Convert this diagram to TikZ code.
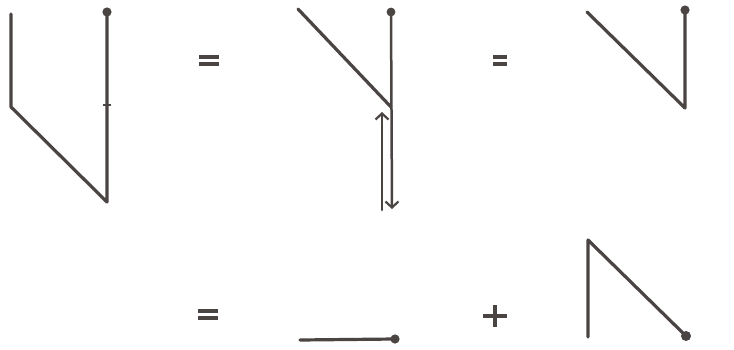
\documentclass[tikz,border=0pt]{standalone}
\usetikzlibrary{arrows.meta}
\definecolor{ink}{HTML}{4A4443}
\begin{document}
\begin{tikzpicture}[x=1pt,y=-1pt,
  stroke/.style={draw=ink,line width=3.2pt,line cap=round,line join=round},
  thin stroke/.style={draw=ink,line width=2.5pt,line cap=round},
  knob/.style={fill=ink},
  sign/.style={draw=ink,line width=3.5pt},
  barb/.style={-{Straight Barb[length=6pt,width=13pt,line width=2.2pt]}}]
\useasboundingbox (0,0) rectangle (734,349);
% figure 1
\coordinate (a1) at (11,14); \coordinate (a2) at (11,107);
\coordinate (a3) at (107,202); \coordinate (a4) at (107,12);
\draw[stroke] (a1) -- (a2) -- (a3) -- (a4);
\fill[knob] (a4) circle (4.6pt);
\draw[ink,line width=1.8pt] (103,105) -- (111,105);
% equals 1
\draw[sign] (199,57) -- (219,57) (199,64) -- (219,64);
% figure 2
\coordinate (b1) at (298,9); \coordinate (b2) at (391,107);
\coordinate (b3) at (391,12); \coordinate (b4) at (392,209);
\coordinate (c1) at (382,210); \coordinate (c2) at (382,112);
\draw[stroke] (b1) -- (b2);
\draw[thin stroke,barb] (b3) -- (b4);
\fill[knob] (b3) circle (4.4pt);
\draw[thin stroke,barb] (c1) -- (c2);
% equals 2
\draw[sign] (493,57) -- (507,57) (493,64) -- (507,64);
% figure 3
\coordinate (d1) at (587,12); \coordinate (d2) at (685,108);
\coordinate (d3) at (685,10);
\draw[stroke] (d1) -- (d2) -- (d3);
\fill[knob] (d3) circle (4.6pt);
% equals 3
\draw[sign] (198,311) -- (218,311) (198,318) -- (218,318);
% horizontal with knob
\coordinate (e1) at (300,340); \coordinate (e2) at (395,339);
\draw[stroke] (e1) -- (e2);
\fill[knob] (e2) circle (4.6pt);
% plus
\draw[sign] (483,316) -- (507,316) (495,305) -- (495,327);
% figure 4
\coordinate (f1) at (588,337); \coordinate (f2) at (588,240);
\coordinate (f3) at (686,336);
\draw[stroke] (f1) -- (f2) -- (f3);
\fill[knob] (f3) circle (5pt);
\end{tikzpicture}
\end{document}
